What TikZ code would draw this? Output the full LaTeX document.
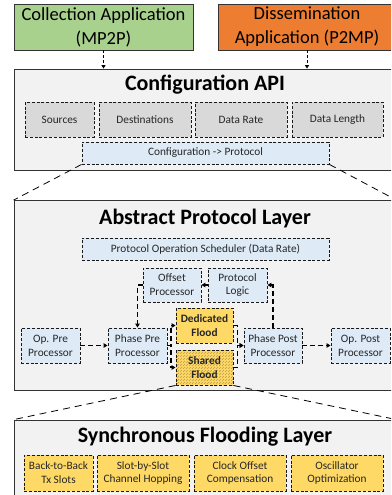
\documentclass[tikz,border=0pt]{standalone}
\usepackage{fontspec}
\setmainfont{Carlito}
\usetikzlibrary{arrows.meta,patterns}
\definecolor{appgreen}{HTML}{A9D18E}
\definecolor{apporange}{HTML}{ED7D31}
\definecolor{layergray}{HTML}{F2F2F2}
\definecolor{subgray}{HTML}{D9D9D9}
\definecolor{subblue}{HTML}{DEEBF7}
\definecolor{subyellow}{HTML}{FFD966}
\begin{document}
\begin{tikzpicture}[x=1pt,y=-1pt,
  app/.style={draw=black!80, line width=0.8pt, inner sep=0pt, align=center, font=\fontsize{18.5}{24}\selectfont},
  layer/.style={draw=black!80, line width=0.8pt, fill=layergray, inner sep=0pt},
  ltitle/.style={font=\fontsize{22}{26}\selectfont\bfseries, inner sep=0pt},
  sub/.style={draw=black!90, dash pattern=on 3pt off 1.8pt, line width=0.9pt, inner sep=0pt, align=center, font=\fontsize{11.3}{13.8}\selectfont, text=black!85},
  graysub/.style={sub, fill=subgray},
  bluesub/.style={sub, fill=subblue},
  yellowsub/.style={sub, fill=subyellow},
  conn/.style={line width=1.3pt, dash pattern=on 5pt off 3pt, -{Triangle[length=4pt,width=4.5pt]}},
  appconn/.style={line width=0.9pt, dash pattern=on 3pt off 2pt, -{Triangle[length=3.5pt,width=4pt]}},
  zoomline/.style={line width=0.8pt, dash pattern=on 7pt off 5pt}
]
\useasboundingbox (0,0) rectangle (391,495);
\clip (0,0) rectangle (391,495);

% application boxes
\node[app, fill=appgreen, minimum width=179pt, minimum height=46pt] (coll) at (103.5,27) {Collection Application\\(MP2P)};
\node[app, fill=apporange, minimum width=178pt, minimum height=46pt] (diss) at (307,27) {Dissemination\\Application (P2MP)};

% Configuration API layer
\node[layer, minimum width=382pt, minimum height=101pt] (cfg) at (205,119.5) {};
\node[ltitle] (cfgtitle) at (205,85) {Configuration API};
\node[graysub, minimum width=69pt, minimum height=35pt] (src) at (59.5,119.5) {Sources};
\node[graysub, minimum width=92pt, minimum height=35pt] (dst) at (145,119.5) {Destinations};
\node[graysub, minimum width=92pt, minimum height=35pt] (drate) at (241,119.5) {Data Rate};
\node[graysub, minimum width=91pt, minimum height=35pt] (dlen) at (337.5,119.5) {Data Length};
\node[bluesub, minimum width=247pt, minimum height=22pt] (cp) at (205.5,153) {Configuration -> Protocol};

% Abstract Protocol Layer
\node[layer, minimum width=382pt, minimum height=189.5pt] (abs) at (205,295.25) {};
\node[ltitle] (abstitle) at (205,219) {Abstract Protocol Layer};
\node[bluesub, minimum width=247pt, minimum height=22pt] (sched) at (205.5,249) {Protocol Operation Scheduler (Data Rate)};
\node[bluesub, minimum width=58pt, minimum height=34pt] (offs) at (172,285) {Offset\\Processor};
\node[bluesub, minimum width=59pt, minimum height=34pt] (logic) at (237.5,285) {Protocol\\Logic};
\node[yellowsub, minimum width=57pt, minimum height=35pt, font=\fontsize{11.3}{13.8}\selectfont\bfseries] (ded) at (204.5,325.5) {Dedicated\\Flood};
\node[sub, preaction={fill=subyellow}, pattern=north east lines, pattern color=black!28!subyellow, minimum width=57pt, minimum height=35pt, font=\fontsize{11.3}{13.8}\selectfont\bfseries] (shared) at (204.5,367.5) {Shared\\Flood};
\node[bluesub, minimum width=59pt, minimum height=35pt] (oppre) at (50.5,345.5) {Op. Pre\\Processor};
\node[bluesub, minimum width=59pt, minimum height=35pt] (phpre) at (137.5,345.5) {Phase Pre\\Processor};
\node[bluesub, minimum width=58pt, minimum height=35pt] (phpost) at (273,345.5) {Phase Post\\Processor};
\node[bluesub, minimum width=59pt, minimum height=35pt] (oppost) at (360.5,345.5) {Op. Post\\Processor};

% Synchronous Flooding Layer
\node[layer, minimum width=382pt, minimum height=90pt] (sync) at (205,465) {};
\node[ltitle] (synctitle) at (205,437) {Synchronous Flooding Layer};
\node[yellowsub, minimum width=69pt, minimum height=36pt] (b2b) at (58.5,473) {Back-to-Back\\Tx Slots};
\node[yellowsub, minimum width=92pt, minimum height=36pt] (sbs) at (143,473) {Slot-by-Slot\\Channel Hopping};
\node[yellowsub, minimum width=92pt, minimum height=36pt] (clk) at (240,473) {Clock Offset\\Compensation};
\node[yellowsub, minimum width=92pt, minimum height=36pt] (osc) at (337,473) {Oscillator\\Optimization};

% zoom lines
\draw[zoomline] (cp.south west) -- (abs.north west);
\draw[zoomline] (cp.south east) -- (abs.north east);
\draw[zoomline] (shared.south west) -- (sync.north west);
\draw[zoomline] (shared.south east) -- (sync.north east);

% application arrows
\draw[appconn] (coll.south) -- (coll.south |- cfg.north);
\draw[appconn] (diss.south) -- (diss.south |- cfg.north);

% protocol connectors
\draw[conn] (oppre.east) -- (phpre.west);
\draw[conn] (phpost.east) -- (oppost.west);
\draw[conn] (phpre.east) -- ([xshift=3.5pt]phpre.east) |- (ded.west);
\draw[conn] (phpre.east) -- ([xshift=3.5pt]phpre.east) |- (shared.west);
\draw[conn] (ded.east) -- ([xshift=4pt]ded.east) |- (phpost.west);
\draw[conn] (shared.east) -- ([xshift=4pt]shared.east) |- (phpost.west);
\draw[conn] (phpost.north) |- (logic.east);
\draw[conn] (logic.west) -- (offs.east);
\draw[conn] (offs.west) -| (phpre.north);
\end{tikzpicture}
\end{document}
